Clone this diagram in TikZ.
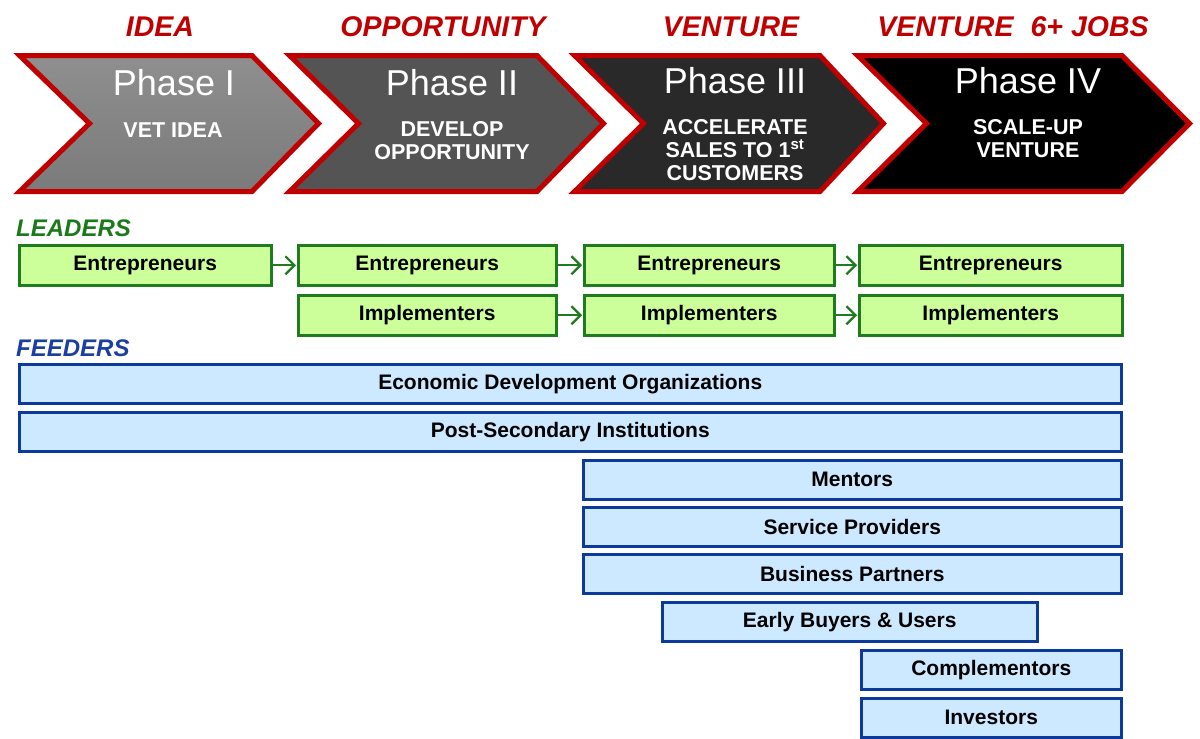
\documentclass[tikz,border=0pt]{standalone}
\usepackage{fontspec}
\setmainfont{Liberation Sans}
\usetikzlibrary{arrows.meta,shadows}
\definecolor{cred}{HTML}{C00000}
\definecolor{lgreen}{HTML}{CCFF99}
\definecolor{dgreen}{HTML}{1E7B1E}
\definecolor{lblue}{HTML}{CCE9FF}
\definecolor{dblue}{HTML}{0B3A9A}
\definecolor{tgreen}{HTML}{1A7A1A}
\definecolor{tblue}{HTML}{1A3FA0}
\tikzset{
  chev/.style={draw=cred, line width=5pt, line join=miter,
    drop shadow={opacity=0.18, shadow xshift=2pt, shadow yshift=-2pt}},
  phasetitle/.style={text=white, font=\fontsize{36}{40}\selectfont, inner sep=0pt},
  phasesub/.style={text=white, font=\bfseries\fontsize{21.5}{23}\selectfont, align=center, inner sep=0pt},
  header/.style={text=cred, font=\bfseries\itshape\fontsize{28.5}{30}\selectfont, inner sep=0pt},
  grouplabel/.style={font=\bfseries\itshape\fontsize{24}{26}\selectfont, inner sep=0pt, anchor=west},
  leaderbox/.style={draw=dgreen, fill=lgreen, line width=2.5pt, minimum height=40pt,
    inner sep=0pt, anchor=north west, font=\bfseries\fontsize{21}{24}\selectfont},
  feederbox/.style={draw=dblue, fill=lblue, line width=2.5pt, minimum height=39pt,
    inner sep=0pt, anchor=north west, font=\bfseries\fontsize{21}{24}\selectfont},
  larr/.style={draw=dgreen, line width=2pt, -{Straight Barb[length=9pt,width=18pt,line width=2.2pt]}, shorten >=1pt}
}
\begin{document}
\begin{tikzpicture}[x=1pt,y=-1pt]
\useasboundingbox (0,0) rectangle (1200,739);
% chevrons
\path[chev, top color=black!44, bottom color=black!52]
  (19.5,55.5) -- (252,55.5) -- (318.5,123.5) -- (252,191.5) -- (19.5,191.5) -- (89.5,123.5) -- cycle;
\path[chev, fill=black!67]
  (289.5,55.5) -- (537,55.5) -- (603.5,123.5) -- (537,191.5) -- (289.5,191.5) -- (358.5,123.5) -- cycle;
\path[chev, fill=black!84]
  (574.5,55.5) -- (820,55.5) -- (883.5,123.5) -- (820,191.5) -- (574.5,191.5) -- (643.5,123.5) -- cycle;
\path[chev, fill=black]
  (857.5,55.5) -- (1122,55.5) -- (1189.5,123.5) -- (1122,191.5) -- (857.5,191.5) -- (926.5,123.5) -- cycle;
% headers
\node[header] (h1) at (160,27) {IDEA};
\node[header] (h2) at (443,27) {OPPORTUNITY};
\node[header] (h3) at (731,27) {VENTURE};
\node[header] (h4) at (1013,27) {VENTURE\hspace{0.6em}6+ JOBS};
% phase titles
\node[phasetitle] (p1) at (174,83) {Phase I};
\node[phasetitle] (p2) at (452,83) {Phase II};
\node[phasetitle] (p3) at (735,81) {Phase III};
\node[phasetitle] (p4) at (1028,81) {Phase IV};
\node[phasesub] (s1) at (173,130) {VET IDEA};
\node[phasesub] (s2) at (452,141) {DEVELOP\\OPPORTUNITY};
\node[phasesub] (s3) at (735,150) {ACCELERATE\\SALES TO 1\textsuperscript{st}\\CUSTOMERS};
\node[phasesub] (s4) at (1028,139) {SCALE-UP\\VENTURE};
% leaders
\node[grouplabel, text=tgreen] (lead) at (16,228) {LEADERS};
\node[leaderbox, minimum width=252pt] (e1) at (18,244) {Entrepreneurs};
\node[leaderbox, minimum width=258pt] (e2) at (297,244) {Entrepreneurs};
\node[leaderbox, minimum width=250pt] (e3) at (583,244) {Entrepreneurs};
\node[leaderbox, minimum width=263pt] (e4) at (858,244) {Entrepreneurs};
\node[leaderbox, minimum width=258pt] (i2) at (297,294) {Implementers};
\node[leaderbox, minimum width=250pt] (i3) at (583,294) {Implementers};
\node[leaderbox, minimum width=263pt] (i4) at (858,294) {Implementers};
\draw[larr] (e1.east) -- (e2.west);
\draw[larr] (e2.east) -- (e3.west);
\draw[larr] (e3.east) -- (e4.west);
\draw[larr] (i2.east) -- (i3.west);
\draw[larr] (i3.east) -- (i4.west);
% feeders
\node[grouplabel, text=tblue] (feed) at (16,348) {FEEDERS};
\node[feederbox, minimum width=1102pt] (f1) at (18,363) {Economic Development Organizations};
\node[feederbox, minimum width=1102pt] (f2) at (18,411) {Post-Secondary Institutions};
\node[feederbox, minimum width=538pt] (f3) at (582,459) {Mentors};
\node[feederbox, minimum width=538pt] (f4) at (582,506) {Service Providers};
\node[feederbox, minimum width=538pt] (f5) at (582,553) {Business Partners};
\node[feederbox, minimum width=375pt] (f6) at (661,601) {Early Buyers \& Users};
\node[feederbox, minimum width=260pt] (f7) at (860,649) {Complementors};
\node[feederbox, minimum width=260pt] (f8) at (860,697) {Investors};
\end{tikzpicture}
\end{document}
